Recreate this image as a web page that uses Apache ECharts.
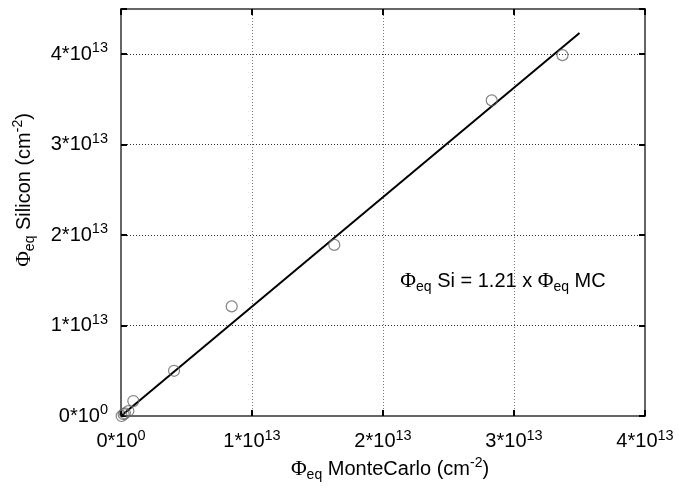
<!DOCTYPE html>
<html><head><meta charset="utf-8">
<script src="https://cdn.jsdelivr.net/npm/echarts@6/dist/echarts.min.js"></script>
<style>html,body{margin:0;padding:0;background:#fff}#c{width:679px;height:491px}</style>
</head><body><div id="c"></div>
<script>
// Data (units of 1e13 cm^-2)
const mcFluence = [0.005, 0.02, 0.03, 0.056, 0.094, 0.405, 0.845, 1.628, 2.83, 3.37];
const siFluence = [0.0, 0.02, 0.03, 0.055, 0.165, 0.50, 1.212, 1.892, 3.49, 3.99];
const fitSlope = 1.21;
const fitX = [0, 3.5];
const xTicks = [0, 1, 2, 3, 4];
const yTicks = [0, 1, 2, 3, 4];
const SCALE = 1e13;

const points = mcFluence.map((x, i) => [x * SCALE, siFluence[i] * SCALE]);
const fitLine = fitX.map(x => [x * SCALE, fitSlope * x * SCALE]);

const FONT = 'Liberation Sans, Arial, sans-serif';
function tickLabel(v) {
  const n = Math.round(v / SCALE);
  if (Math.abs(v / SCALE - n) > 1e-6 || n > 4) return '';
  return n === 0 ? '{a|0*10}{b|0}' : '{a|' + n + '*10}{b|13}';
}
const labelRich = {
  a: {fontSize: 20, fontFamily: FONT, color: '#000'},
  b: {fontSize: 14.5, fontFamily: FONT, color: '#000', padding: [0, 0, 12, 0]}
};
const nameRich = {
  p: {fontSize: 21.5, fontFamily: 'Liberation Serif, serif', color: '#000'},
  s: {fontSize: 14, fontFamily: FONT, color: '#000', padding: [12, 0, 0, 0]},
  n: {fontSize: 20, fontFamily: FONT, color: '#000'},
  t: {fontSize: 14, fontFamily: FONT, color: '#000', padding: [0, 0, 12, 0]}
};
const frameLine = {show: true, onZero: false, lineStyle: {color: '#666', width: 2}};
const tick = {show: true, inside: true, length: 6, lineStyle: {color: '#000', width: 2}};

const chart = echarts.init(document.getElementById('c'), null, {renderer: 'canvas'});
chart.setOption({
  animation: false,
  backgroundColor: '#fff',
  grid: {left: 121, right: 34, top: 9, bottom: 75, containLabel: false},
  xAxis: [{
    type: 'value', min: 0, max: 4 * SCALE, interval: SCALE,
    axisLine: frameLine, axisTick: tick,
    axisLabel: {formatter: tickLabel, rich: labelRich, margin: 12},
    splitLine: {show: true, lineStyle: {color: '#777', type: [1, 2], width: 1}}
  }, {
    type: 'value', position: 'top', min: 0, max: 4 * SCALE, interval: SCALE,
    axisLine: frameLine, axisTick: tick, axisLabel: {show: false}, splitLine: {show: false}
  }],
  yAxis: [{
    type: 'value', min: 0, max: 4.5 * SCALE, interval: SCALE,
    axisLine: frameLine, axisTick: tick,
    axisLabel: {formatter: tickLabel, rich: labelRich, margin: 13},
    splitLine: {show: true, lineStyle: {color: '#333', type: [1, 2], width: 1}}
  }, {
    type: 'value', position: 'right', min: 0, max: 4.5 * SCALE, interval: SCALE,
    axisLine: frameLine, axisTick: tick, axisLabel: {show: false}, splitLine: {show: false}
  }],
  series: [{
    type: 'line', data: fitLine, symbol: 'none',
    lineStyle: {color: '#000', width: 2}, z: 3
  }, {
    type: 'scatter', data: points, symbol: 'circle', symbolSize: 11,
    itemStyle: {color: 'rgba(255,255,255,0)', borderColor: '#666', borderWidth: 1.2}, z: 4
  }],
  graphic: [{
    type: 'text', x: 390, y: 469,
    style: {
      text: '{p|Φ}{s|eq}{n| MonteCarlo (cm}{t|-2}{n|)}',
      rich: nameRich, align: 'center', verticalAlign: 'middle'
    }
  }, {
    type: 'text', x: 24, y: 190, rotation: Math.PI / 2,
    style: {
      text: '{p|Φ}{s|eq}{n| Silicon (cm}{t|-2}{n|)}',
      rich: nameRich, align: 'center', verticalAlign: 'middle'
    }
  }, {
    type: 'text', x: 503, y: 281,
    style: {
      text: '{p|Φ}{s|eq}{n| Si = 1.21 x }{p|Φ}{s|eq}{n| MC}',
      rich: nameRich, align: 'center', verticalAlign: 'middle'
    }
  }]
});
</script></body></html>
